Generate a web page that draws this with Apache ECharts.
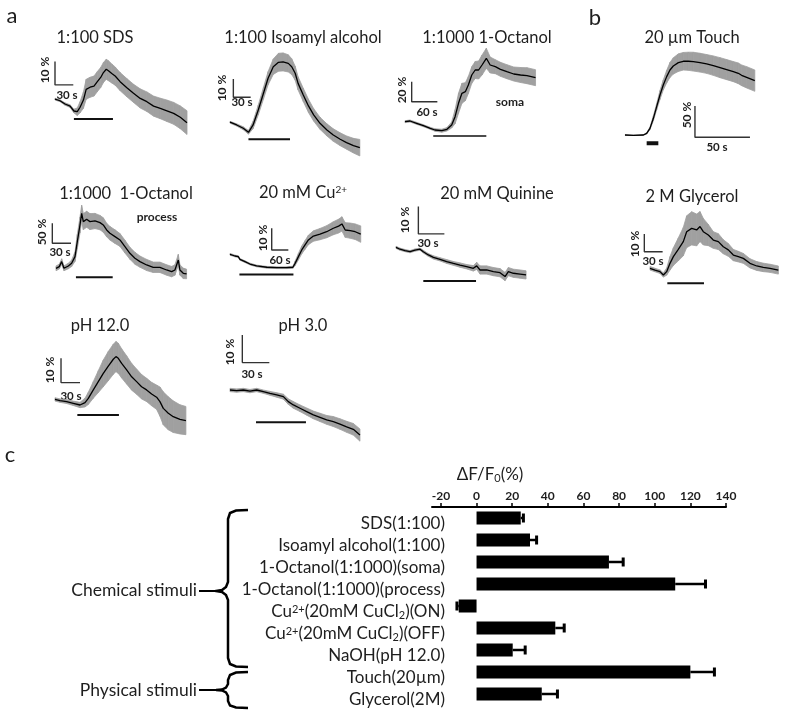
<!DOCTYPE html>
<html><head><meta charset="utf-8">
<script src="https://cdn.jsdelivr.net/npm/echarts@6/dist/echarts.min.js"></script>
<style>html,body{margin:0;padding:0;background:#fff}#c{width:787px;height:717px}</style>
</head><body><div id="c"></div>
<script>
// ===== Panel a / b traces: time (s), mean ΔF/F0 (%), SEM band (%) =====
const sdsT    = [0,8.2,16.4,24.7,31,36.5,41.1,46.6,51.1,57.5,63.9,69.4,74.9,79.4,84,87.6,93.1,98.6,106.8,117.8,128.7,139.7,150.6,161.6,172.6,183.5,194.5,205.4,216.4];
const sdsMean = [5.4,4.7,3.3,2.4,0.3,0,1.9,5.0,9.6,10.5,11.0,12.9,14.7,16.8,18.2,17.6,16.4,15.3,12.9,10.3,7.9,5.7,4.3,2.4,1.4,0.4,-0.7,-2.4,-4.7];
const sdsSd   = [0.4,0.4,0.5,0.55,0.8,1.6,2.4,3.5,4.3,4.3,4.3,4.3,4.3,4.3,4.3,4.3,4.1,3.9,3.9,3.9,3.9,4.1,4.2,4.3,4.4,4.6,4.7,4.9,5.1];
const sdsStim = [31,95];

const isoT    = [0,11.6,23,32,40,49,58,66,75,84,92,101,107,113,118,127,136,145,156,168,179,191,202,214,225];
const isoMean = [5.5,4.0,2.2,0,4.0,12.2,21.3,29.5,35.8,38.2,38.4,37.6,35.8,32.2,26.7,20.4,14.4,9.5,4.9,1.3,-1.5,-3.8,-5.6,-7.3,-8.4];
const isoSd   = [0.5,0.6,0.8,1,2,2.7,3.2,3.6,4.2,4.9,4.9,4.7,4.3,3.8,3.6,3.6,3.6,3.4,3.3,3.3,3.4,3.5,3.6,4,4.5];
const isoStim = [32,104];

const somaT    = [0,11.7,27,43,59,70,86,98,109,117,125,133,141,148,156,164,172,180,190,199,211,223,238,254,270,285,305];
const somaMean = [8.3,9.0,6.7,4.3,1.7,0,-0.7,0.7,5,13.3,26.7,36.7,38.3,45,55,60,60,65,71.7,65,63.3,60.7,58.3,56,55,54.3,52.3];
const somaSd   = [1,1,1,1,1,1.2,1.5,1.7,3,7,10,10,9,8.5,8.3,8.5,9,10,10,8,7,7,7,7,7.5,8,8];
const somaStim = [66,190];

const touchT    = [0,7.6,16.7,19.7,22.7,25.8,28.8,31.8,34.8,37.9,40.9,43.9,48.5,53,57.6,62.1,68.2,74.2,80.3,86.4,92.4,98.5,103,106,110.6,118];
const touchMean = [0,-0.5,0,2.7,10.6,26.6,45.2,63.8,79.8,93.1,103.7,110.1,115.4,117.6,117.6,117,115.4,113.3,110.6,107.4,104.3,101.1,98.4,95.2,92,86.7];
const touchSd   = [0.3,0.3,0.5,1,2,4,5,7,8,10,12,13,14,14,14.5,15,15,15,15.5,16,16,16,16.5,16.5,17,17];
const touchStim = [19.7,30.3];

const procT    = [0,5.3,9.1,12.8,19.8,25.1,30.5,34.2,38.5,41.2,43.9,49.2,54.5,62.6,70.6,75.9,81.3,86.6,94.7,102.7,110.7,118.7,126.7,134.8,145.5,156.1,166.8,177.5,185.6,190.9,196.3,198.9,204.3,209.6];
const procMean = [0,4.2,16.7,0,5.8,12.5,29.2,66.7,108.3,137.5,116.7,122.5,116.7,118.3,114.2,108.3,95.8,87.5,79.2,70.8,54.2,37.5,25,16.7,8.3,2.5,2.5,-4.2,-8.3,-4.2,20.8,-4.2,-12.5,-14.2];
const procSd   = [6,6,7,6,7,8,12,18,20,20,20,20,20,19,18,18,17,17,17,16,16,15,15,14,14,13,13,13,13,13,14,13,13,12];
const procStim = [32,91];

const cuT    = [0,18,30,36,54,72,96,133,169,205,227,235,247,259,271,283,301,325,349,373,392,404,416,434,452,472];
const cuMean = [6.2,5.4,5.1,3.8,2.8,1.7,0.8,0.2,0,0,0.2,2,5.1,8.2,10.5,12.8,14.6,15.5,16.6,18.2,19.2,20.2,17.4,17.1,16.6,15.5];
const cuSd   = [0.4,0.4,0.4,0.4,0.4,0.4,0.4,0.4,0.4,0.4,0.5,1,1.5,1.8,2,2.2,2.4,2.6,2.8,3,3.2,3.3,3.4,3.5,3.6,3.8];
const cuStim = [34,229];

const quiT    = [0,4.6,10.4,16.2,21.9,27.7,31.5,37.3,43.1,50.8,58.5,66.2,73.8,81.5,89.2,93.1,96.9,104.6,112.3,120,125.8,129.6,135.4,143.1,150];
const quiMean = [0,-0.7,-1.2,-1.6,-1,-0.7,-1.6,-2.8,-3.7,-4.4,-5.2,-5.9,-6.5,-7.1,-7.7,-6.8,-8.3,-8.3,-8.9,-9.3,-10.7,-8.9,-9.5,-9.8,-10.1];
const quiSd   = [0.4,0.4,0.4,0.4,0.4,0.4,0.5,0.5,0.6,0.6,0.7,0.7,0.8,0.8,1,1.3,1.5,1.5,1.5,1.5,1.5,1.5,1.5,1.5,1.5];
const quiStim = [31.5,92.3];

const glyT    = [0,8.2,16.4,21.9,27.3,32.8,38.3,46.4,54.6,60.1,68.3,76.5,82,87.4,95.6,103.8,112,120.2,128.4,136.6,144.8,153,163.9,174.9,185.8,196.7,210.4];
const glyMean = [3.8,2.8,1.9,0,1.9,6.6,10.4,14.5,18.9,24.5,26.4,25.5,27.4,24.5,22.6,19.8,18.9,16,14.2,11.3,10.4,9.4,6.6,5.1,4.3,3.8,2.8];
const glySd   = [1,1,1,1.2,2,3.8,5,6.5,8,9,9.4,9,8.5,7.5,6,4.7,4.5,4,3.6,3.2,3,2.8,2.6,2.5,2.4,2.3,2.3];
const glyStim = [28.4,88.5];

const ph12T    = [0,7.9,18.4,28.9,39.5,47.4,52.6,60.5,68.4,76.3,84.2,92.1,96.3,100,105.3,113.2,121.1,128.9,136.8,144.7,152.6,160.5,165.8,171.1,179,186.8,197.4,206.8];
const ph12Mean = [2.3,1.8,1.4,0.7,0,1,2.7,6.2,9.6,13,16,18.8,19.9,19.2,17.1,14.4,11.6,9.6,7.5,6.2,4.5,3.2,1.4,-1.4,-3.4,-4.8,-5.9,-6.4];
const ph12Sd   = [0.7,0.7,0.8,0.9,1.1,1.8,2.5,3.4,4.5,5.5,6,6.2,6.2,6.2,6,5.8,5.5,5.2,5,4.8,4.8,5,6,6.8,6.8,6.5,6,5.8];
const ph12Stim = [35.3,101];

const ph3T    = [0,7.4,14.8,22.2,29.6,37,44.4,51.9,59.3,64.8,70.4,77.8,85.2,92.6,100,107.4,114.8,122.2,129.6,137,144.4];
const ph3Mean = [0,-0.2,0,-0.4,0,-0.6,-1.2,-1.8,-2.4,-4.2,-5.4,-6.6,-7.8,-9,-9.9,-10.8,-11.4,-12.3,-13.3,-14.2,-16.3];
const ph3Sd   = [0.6,0.6,0.6,0.6,0.6,0.6,0.7,0.8,0.9,1,1.2,1.2,1.3,1.4,1.5,1.6,1.8,1.9,2,2.1,2.2];
const ph3Stim = [28.9,84.4];

// scale bar sizes [seconds, percent]
const scaleSizes = [[30,10],[30,10],[60,20],[50,50],[30,50],[60,10],[30,10],[30,10],[30,10],[30,10]];

// ===== Panel c: bar chart =====
const stimuli = ['SDS(1:100)','Isoamyl alcohol(1:100)','1-Octanol(1:1000)(soma)','1-Octanol(1:1000)(process)',
  'Cu²⁺(20mM CuCl₂)(ON)','Cu²⁺(20mM CuCl₂)(OFF)','NaOH(pH 12.0)','Touch(20µm)','Glycerol(2M)'];
const response = [24.8,30,74.3,111.5,-10,44.2,20.3,120,36.6];
const responseErr = [1.5,3.7,8,17,1,5,7,13.5,8.8];
const xTicks = [-20,0,20,40,60,80,100,120,140];

// ===== layout (pixels) =====
const FONT = 'Lato, "Open Sans", sans-serif';
const panels = [
 {title:'1:100 SDS', tx:95, ty:38, t:sdsT, m:sdsMean, sd:sdsSd, stim:sdsStim, stimV:-3.1, stimW:2,
  ox:55, oy:111.7, pxs:0.61, pxp:2.33, xr:[0,220], yr:[-12,25], sb:[0,11.5],
  lblV:[45,70,'10 %'], lblH:[67,95,'30 s']},
 {title:'1:100 Isoamyl alcohol', tx:303, ty:38, t:isoT, m:isoMean, sd:isoSd, stim:isoStim, stimV:-3.8, stimW:2,
  ox:230, oy:132.3, pxs:0.577, pxp:1.833, xr:[0,228], yr:[-14,45], sb:[5.8,19.1],
  lblV:[222,88,'10 %'], lblH:[242,102,'30 s']},
 {title:'1:1000 1-Octanol', tx:487, ty:38, t:somaT, m:somaMean, sd:somaSd, stim:somaStim, stimV:-6, stimW:1.3,
  ox:405, oy:130, pxs:0.428, pxp:1.0, xr:[0,308], yr:[-10,85], sb:[15.6,28.3],
  lblV:[402,90,'20 %'], lblH:[427,112,'60 s'], note:[510,102,'soma']},
 {title:'20 µm Touch', tx:692, ty:38, t:touchT, m:touchMean, sd:touchSd, stim:touchStim, stimV:-13.3, stimW:4,
  ox:625, oy:135, pxs:1.1, pxp:0.627, xr:[0,120], yr:[-20,140], sb:[63.6,-3.7],
  lblV:[687,115,'50 %'], lblH:[717,147,'50 s']},
 {title:'1:1000  1-Octanol', tx:126, ty:194, t:procT, m:procMean, sd:procSd, stim:procStim, stimV:-22.5, stimW:2,
  ox:56, oy:268.3, pxs:0.623, pxp:0.4, xr:[-10,212], yr:[-40,170], sb:[-5.9,62.5],
  lblV:[42,232,'50 %'], lblH:[60,252,'30 s'], note:[157,217,'process']},
 {title:'20 mM Cu{sup|2+}', tx:303, ty:193, t:cuT, m:cuMean, sd:cuSd, stim:cuStim, stimV:-3.1, stimW:2,
  ox:230, oy:267.7, pxs:0.277, pxp:2.167, xr:[0,475], yr:[-6,26], sb:[150.6,8.2],
  lblV:[263,238,'10 %'], lblH:[280,260,'60 s']},
 {title:'20 mM Quinine', tx:497, ty:194, t:quiT, m:quiMean, sd:quiSd, stim:quiStim, stimV:-12.3, stimW:2,
  ox:396, oy:247.3, pxs:0.867, pxp:2.733, xr:[0,152], yr:[-15,16], sb:[25.8,4.9],
  lblV:[405,220,'10 %'], lblH:[428,243,'30 s']},
 {title:'2 M Glycerol', tx:692, ty:197, t:glyT, m:glyMean, sd:glySd, stim:glyStim, stimV:-4.7, stimW:2,
  ox:650, oy:275, pxs:0.61, pxp:1.767, xr:[-12,212], yr:[-8,38], sb:[-9.3,13.2],
  lblV:[635,244,'10 %'], lblH:[653,261,'30 s']},
 {title:'pH 12.0', tx:100, ty:326, t:ph12T, m:ph12Mean, sd:ph12Sd, stim:ph12Stim, stimV:-4.1, stimW:2,
  ox:55, oy:405, pxs:0.633, pxp:2.433, xr:[0,208], yr:[-14,28], sb:[9.5,9.2],
  lblV:[50,370,'10 %'], lblH:[71,396,'30 s']},
 {title:'pH 3.0', tx:303, ty:326, t:ph3T, m:ph3Mean, sd:ph3Sd, stim:ph3Stim, stimV:-11.7, stimW:2,
  ox:230, oy:390, pxs:0.9, pxp:2.767, xr:[0,146], yr:[-20,22], sb:[13.7,9.9],
  lblV:[230,352,'10 %'], lblH:[252,374,'30 s']}
];

const grids = [], xAxes = [], yAxes = [], series = [], graphics = [];
const GRAY = '#a0a0a0';
const TXT = '#1e1e1e';

panels.forEach((p, i) => {
  grids.push({left: p.ox + p.xr[0]*p.pxs, width: (p.xr[1]-p.xr[0])*p.pxs,
              top: p.oy - p.yr[1]*p.pxp, height: (p.yr[1]-p.yr[0])*p.pxp, containLabel:false});
  xAxes.push({type:'value', gridIndex:i, min:p.xr[0], max:p.xr[1], show:false});
  yAxes.push({type:'value', gridIndex:i, min:p.yr[0], max:p.yr[1], show:false});
  const base = {xAxisIndex:i, yAxisIndex:i, silent:true, animation:false};
  // SEM band: one quad per interval between consecutive samples
  const seg = p.t.slice(0, -1).map((t, k) => [t, p.m[k]-p.sd[k], p.m[k]+p.sd[k], p.t[k+1], p.m[k+1]-p.sd[k+1], p.m[k+1]+p.sd[k+1]]);
  series.push(Object.assign({}, base, {type:'custom', data:seg, encode:{x:[0,3], y:[1,2,4,5]},
    renderItem:(params, api) => {
      const pts = [api.coord([api.value(0), api.value(1)]), api.coord([api.value(3), api.value(4)]),
                   api.coord([api.value(3), api.value(5)]), api.coord([api.value(0), api.value(2)])];
      return {type:'polygon', shape:{points:pts}, style:{fill:GRAY, stroke:GRAY, lineWidth:0.8}};
    }}));
  const lb = Object.assign({}, base, {type:'line', symbol:'none'});
  series.push(Object.assign({}, lb, {data: p.t.map((t,k)=>[t, p.m[k]]), lineStyle:{color:'#000', width:1.3}}));
  series.push(Object.assign({}, lb, {data: [[p.stim[0], p.stimV],[p.stim[1], p.stimV]], lineStyle:{color:'#111', width:p.stimW}}));
  const s = scaleSizes[i];
  series.push(Object.assign({}, lb, {data: [[p.sb[0], p.sb[1]+s[1]],[p.sb[0], p.sb[1]],[p.sb[0]+s[0], p.sb[1]]],
     lineStyle:{color:'#333', width:1.4}}));
  graphics.push({type:'text', x:p.tx, y:p.ty, style:{text:p.title, font:'16.5px '+FONT, fill:TXT, align:'center', verticalAlign:'middle',
     rich:{sup:{fontSize:10, fontFamily:FONT, verticalAlign:'top', fill:TXT}}}});
  graphics.push({type:'text', x:p.lblV[0], y:p.lblV[1], rotation:Math.PI/2,
     style:{text:p.lblV[2], font:'bold 12px '+FONT, fill:TXT, align:'center', verticalAlign:'middle'}});
  graphics.push({type:'text', x:p.lblH[0], y:p.lblH[1],
     style:{text:p.lblH[2], font:'bold 11.5px '+FONT, fill:TXT, align:'center', verticalAlign:'middle'}});
  if (p.note) graphics.push({type:'text', x:p.note[0], y:p.note[1],
     style:{text:p.note[2], font:'bold 12px '+FONT, fill:TXT, align:'center', verticalAlign:'middle'}});
});

// bar chart grid
const bi = panels.length;
grids.push({left:432, width:294, top:507, height:198, containLabel:false});
xAxes.push({type:'value', gridIndex:bi, position:'top', min:-25, max:140,
  axisLine:{show:true, lineStyle:{color:'#000', width:2}},
  axisTick:{show:true, inside:false, length:4, customValues:xTicks, lineStyle:{color:'#000', width:1.5}},
  axisLabel:{customValues:xTicks, fontFamily:FONT, fontWeight:'bold', fontSize:12, color:TXT, margin:5},
  splitLine:{show:false}});
yAxes.push({type:'category', gridIndex:bi, data:stimuli, inverse:true,
  axisLine:{show:false}, axisTick:{show:false},
  axisLabel:{interval:0, hideOverlap:false, fontFamily:FONT, fontSize:17, color:TXT, margin:-13, padding:[12,0,0,0],
    formatter: v => v.replace('²⁺','{sup|2+}').replace('₂','{sub|2}'),
    rich:{sup:{fontSize:11, fontFamily:FONT, color:TXT, verticalAlign:'top'},
          sub:{fontSize:11, fontFamily:FONT, color:TXT, verticalAlign:'bottom'}}}});
series.push({type:'bar', xAxisIndex:bi, yAxisIndex:bi, data:response, barWidth:13,
  itemStyle:{color:'#000'}, silent:true, animation:false});
series.push({type:'custom', xAxisIndex:bi, yAxisIndex:bi, silent:true, animation:false,
  data: response.map((v,k)=>[k, v, v + Math.sign(v)*responseErr[k]]),
  encode:{x:[1,2], y:0},
  renderItem:(params, api) => {
    const c = api.value(0), a = api.coord([api.value(1), c]), b = api.coord([api.value(2), c]);
    return {type:'group', children:[
      {type:'line', shape:{x1:a[0], y1:a[1], x2:b[0], y2:b[1]}, style:{stroke:'#000', lineWidth:2.5}},
      {type:'line', shape:{x1:b[0], y1:b[1]-4.5, x2:b[0], y2:b[1]+4.5}, style:{stroke:'#000', lineWidth:3}}]};
  }});

// axis title and brackets
graphics.push({type:'text', x:490, y:475, style:{text:'ΔF/F{sub|0}(%)', font:'17px '+FONT, fill:TXT, align:'center', verticalAlign:'middle',
  rich:{sub:{fontSize:11, fontFamily:FONT, verticalAlign:'bottom', fill:TXT}}}});
graphics.push({type:'polyline', shape:{points:[[248,510],[236,510.5],[230,513],[228,519],[228,582],[226,587],[222,590],[216,591],[222,592],[226,595],[228,600],[228,658],[230,664],[236,666.5],[248,667]]},
  style:{fill:null, stroke:'#000', lineWidth:2.5}});
graphics.push({type:'line', shape:{x1:199, y1:591, x2:217, y2:591}, style:{stroke:'#000', lineWidth:2}});
graphics.push({type:'polyline', shape:{points:[[248,672],[236,672.5],[230,675],[228,680],[228,684],[226,687.5],[222,689.5],[216,690],[222,690.5],[226,692.5],[228,696],[228,701],[230,705.5],[236,707.5],[248,708]]},
  style:{fill:null, stroke:'#000', lineWidth:2.5}});
graphics.push({type:'line', shape:{x1:199, y1:690, x2:217, y2:690}, style:{stroke:'#000', lineWidth:2}});
graphics.push({type:'text', x:197, y:590, style:{text:'Chemical stimuli', font:'17.5px '+FONT, fill:TXT, align:'right', verticalAlign:'middle'}});
graphics.push({type:'text', x:197, y:690, style:{text:'Physical stimuli', font:'17.5px '+FONT, fill:TXT, align:'right', verticalAlign:'middle'}});
// panel letters
graphics.push({type:'text', x:12, y:16, style:{text:'a', font:'22px '+FONT, fill:TXT, align:'center', verticalAlign:'middle'}});
graphics.push({type:'text', x:595, y:18, style:{text:'b', font:'22px '+FONT, fill:TXT, align:'center', verticalAlign:'middle'}});
graphics.push({type:'text', x:10, y:455, style:{text:'c', font:'22px '+FONT, fill:TXT, align:'center', verticalAlign:'middle'}});

const chart = echarts.init(document.getElementById('c'), null, {renderer:'canvas'});
chart.setOption({animation:false, backgroundColor:'#fff', grid:grids, xAxis:xAxes, yAxis:yAxes, series:series,
  graphic:{elements:graphics}});
</script></body></html>
